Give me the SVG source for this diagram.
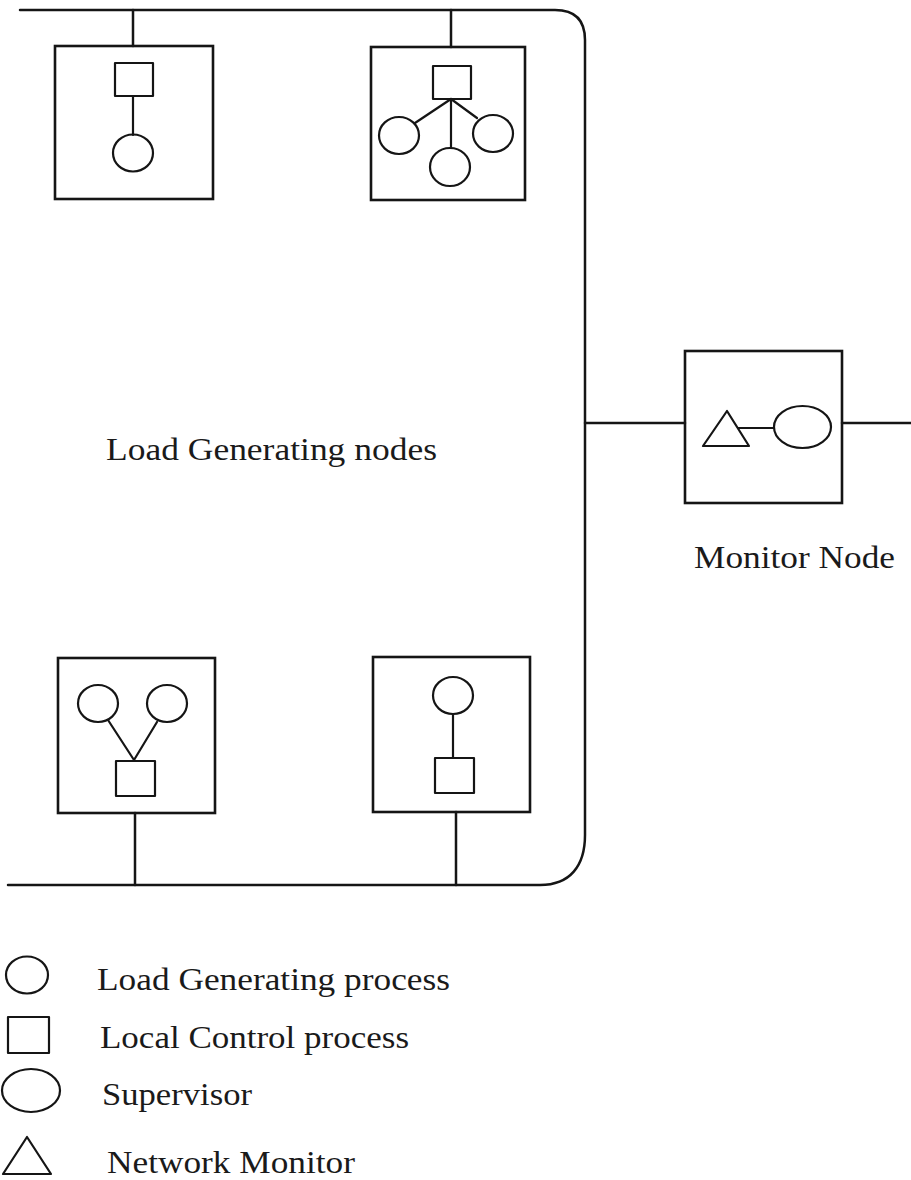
<svg xmlns="http://www.w3.org/2000/svg" width="911" height="1180" viewBox="0 0 911 1180">
<style>
.ln{fill:none;stroke:#151515;stroke-width:2.5;stroke-linecap:round;stroke-linejoin:round}
.in{fill:none;stroke:#151515;stroke-width:2.2;stroke-linecap:round;stroke-linejoin:round}
.box{fill:none;stroke:#151515;stroke-width:2.6}
text{font-family:"Liberation Serif","Times New Roman",serif;font-size:31px;fill:#1a1a1a}
</style>
<rect width="911" height="1180" fill="#fff"/>
<g id="connectors">
<path class="ln" d="M20,10 H555 Q585,10 585,40 V835 C585,866 570,885 540,885 H8"/>
<line class="ln" x1="133" y1="10" x2="133" y2="46"/>
<line class="ln" x1="451" y1="10" x2="451" y2="47"/>
<line class="ln" x1="135" y1="813" x2="135" y2="885"/>
<line class="ln" x1="456" y1="812" x2="456" y2="885"/>
<line class="ln" x1="585" y1="423" x2="685" y2="423"/>
<line class="ln" x1="842" y1="423" x2="911" y2="423"/>
</g>
<g id="node1">
<rect class="box" x="55" y="46" width="158" height="153"/>
<rect class="in" x="115" y="63" width="38" height="33"/>
<line class="in" x1="133" y1="96" x2="133" y2="135"/>
<ellipse class="in" cx="133" cy="153" rx="20" ry="18.5"/>
</g>
<g id="node2">
<rect class="box" x="371" y="47" width="154" height="153"/>
<rect class="in" x="433" y="66" width="38" height="33"/>
<line class="in" x1="451" y1="99" x2="415" y2="123"/>
<line class="in" x1="451" y1="99" x2="477" y2="118"/>
<line class="in" x1="451" y1="99" x2="451" y2="148"/>
<ellipse class="in" cx="399" cy="135.5" rx="20" ry="18.5"/>
<ellipse class="in" cx="493" cy="133.5" rx="20" ry="18.5"/>
<ellipse class="in" cx="450" cy="167" rx="20" ry="19"/>
</g>
<g id="node3">
<rect class="box" x="58" y="658" width="157" height="155"/>
<ellipse class="in" cx="98" cy="703.5" rx="20" ry="18.5"/>
<ellipse class="in" cx="167" cy="703.5" rx="20" ry="18.5"/>
<line class="in" x1="108" y1="720" x2="134" y2="760"/>
<line class="in" x1="157" y1="722" x2="134" y2="760"/>
<rect class="in" x="116" y="761" width="39" height="35"/>
</g>
<g id="node4">
<rect class="box" x="373" y="657" width="157" height="155"/>
<ellipse class="in" cx="453" cy="695.5" rx="20" ry="18.5"/>
<line class="in" x1="453" y1="714" x2="453" y2="758"/>
<rect class="in" x="435" y="758" width="39" height="35"/>
</g>
<g id="monitor">
<rect class="box" x="685" y="351" width="157" height="152"/>
<polygon class="in" points="703,446 749,446 727,411"/>
<line class="in" x1="738" y1="428" x2="774" y2="428"/>
<ellipse class="in" cx="802.5" cy="427" rx="28.5" ry="21"/>
</g>
<g id="labels">
<text x="106" y="460" textLength="331" lengthAdjust="spacingAndGlyphs">Load Generating nodes</text>
<text x="694" y="568" textLength="201" lengthAdjust="spacingAndGlyphs">Monitor Node</text>
</g>
<g id="legend">
<ellipse class="in" cx="27" cy="975" rx="21" ry="18.5"/>
<text x="97" y="990" textLength="353" lengthAdjust="spacingAndGlyphs">Load Generating process</text>
<rect class="in" x="8" y="1017" width="41" height="36"/>
<text x="100" y="1048" textLength="309" lengthAdjust="spacingAndGlyphs">Local Control process</text>
<ellipse class="in" cx="31" cy="1090.5" rx="29" ry="21.5"/>
<text x="102" y="1105" textLength="150" lengthAdjust="spacingAndGlyphs">Supervisor</text>
<polygon class="in" points="3,1174 51,1174 27,1137"/>
<text x="107" y="1173" textLength="248" lengthAdjust="spacingAndGlyphs">Network Monitor</text>
</g>
</svg>
